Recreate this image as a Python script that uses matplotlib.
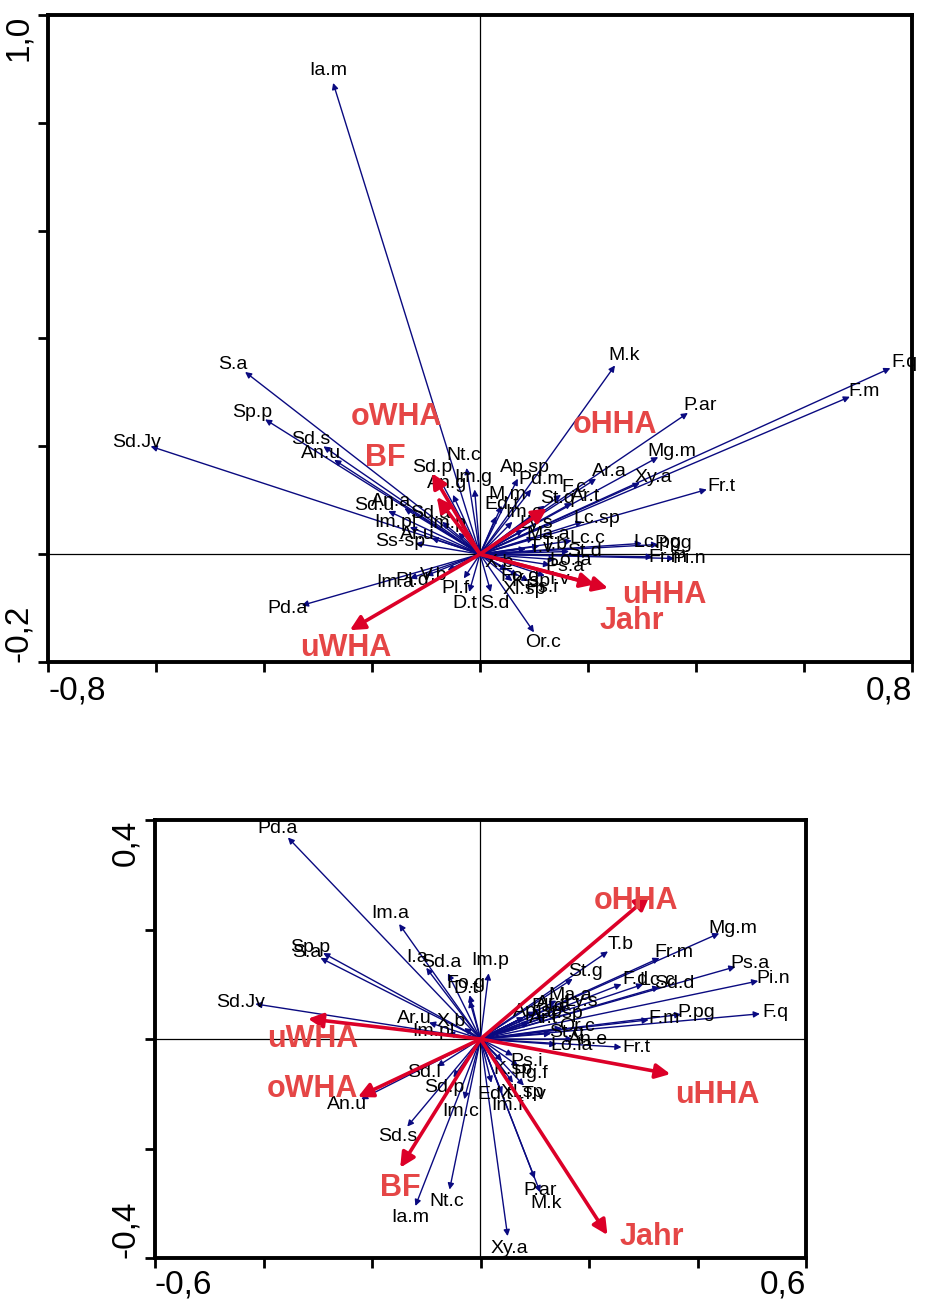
import matplotlib
matplotlib.use("Agg")
import matplotlib.pyplot as plt
from matplotlib import font_manager
import numpy as np

plt.rcParams['font.family'] = ['Liberation Sans', 'DejaVu Sans']

# ---- top biplot: species vectors ----
top_species = ["Ia.m", "S.a", "Sp.p", "Sd.Jv", "Sd.s", "An.u", "Pd.a", "M.k", "P.ar",
               "F.q", "F.m", "Mg.m", "Xy.a", "Fr.t", "Ar.a", "Ar.t", "Lc.sp", "Lc.c",
               "St.d", "Lc.pg", "P.pg", "Fr.m", "Pi.n", "Or.c", "S.d", "Ps.i", "I.v",
               "Im.a", "Pl.d", "Nt.c", "Sd.p", "An.g", "Im.g", "Ap.sp", "Pd.m", "F.c",
               "St.q", "Sd.u", "An.a", "Im.pl", "Ss-sp", "M.m", "V.b", "X.b", "Lo.la",
               "K.sp", "D.t", "Pl.f", "Im.c", "Ly.s", "Ma.a", "Ed.t", "T.b", "Ps.a",
               "Sd.a", "Im.p", "Ar.u", "Fo.g", "Xl.sp", "T.v"]
top_x = [-0.272, -0.435, -0.398, -0.610, -0.290, -0.270, -0.330, 0.250, 0.385,
         0.760, 0.685, 0.330, 0.296, 0.420, 0.215, 0.170, 0.190, 0.170,
         0.165, 0.300, 0.330, 0.320, 0.360, 0.100, 0.020, 0.090, 0.120,
         -0.130, -0.100, -0.025, -0.075, -0.050, -0.010, 0.070, 0.095, 0.150,
         0.120, -0.170, -0.140, -0.130, -0.120, 0.040, -0.060, 0.010, 0.140,
         0.070, -0.020, -0.030, 0.060, 0.080, 0.100, 0.030, 0.110, 0.130,
         -0.070, -0.040, -0.090, 0.050, 0.060, 0.085]
top_y = [0.874, 0.338, 0.250, 0.200, 0.200, 0.175, -0.095, 0.350, 0.262,
         0.345, 0.292, 0.180, 0.132, 0.120, 0.140, 0.095, 0.060, 0.025,
         0.005, 0.020, 0.018, -0.005, -0.008, -0.145, -0.070, -0.050, -0.040,
         -0.045, -0.040, 0.160, 0.140, 0.110, 0.120, 0.140, 0.120, 0.110,
         0.090, 0.080, 0.085, 0.050, 0.020, 0.090, -0.030, -0.005, -0.010,
         -0.040, -0.070, -0.045, 0.060, 0.045, 0.030, 0.070, 0.015, -0.020,
         0.060, 0.040, 0.030, -0.030, -0.050, 0.010]

top_env = ["BF", "oWHA", "oHHA", "uHHA", "Jahr", "uWHA"]
top_env_x = [-0.089, -0.080, 0.124, 0.237, 0.213, -0.241]
top_env_y = [0.150, 0.106, 0.085, -0.063, -0.056, -0.141]

# ---- bottom biplot: species vectors ----
bot_species = ["Pd.a", "Im.a", "Sp.p", "S.a", "Sd.Jv", "I.a", "Sd.a", "Im.p", "Fo.g",
               "Ar.u", "Im.pl", "An.u", "Sd.s", "Ia.m", "Nt.c", "Im.c", "Im.f", "P.ar",
               "M.k", "Xy.a", "Fr.t", "An.e", "F.q", "F.m", "P.pg", "Pi.n", "Ps.a",
               "Mg.m", "Fr.m", "T.b", "St.g", "F.d", "Lc.c", "Sd.d", "Ma.a", "Ly.s",
               "Sd.p", "Ed.t", "Xl.sp", "T.v", "Pg.f", "Sd.l", "Lc.sp", "Ar.t", "Or.c",
               "Ps.i", "Pl.d", "K.sp", "D.t", "St.q", "Ap.sp", "Ar.a", "Lo.la", "X.b"]
bot_x = [-0.355, -0.150, -0.290, -0.295, -0.415, -0.100, -0.060, 0.015, -0.020,
         -0.095, -0.060, -0.220, -0.135, -0.120, -0.057, -0.030, 0.040, 0.100,
         0.110, 0.050, 0.260, 0.170, 0.515, 0.310, 0.370, 0.512, 0.470,
         0.440, 0.330, 0.235, 0.170, 0.260, 0.300, 0.330, 0.140, 0.160,
         -0.050, 0.020, 0.060, 0.080, 0.070, -0.080, 0.120, 0.090, 0.150,
         0.060, 0.100, 0.040, -0.020, 0.130, 0.080, 0.110, 0.140, -0.030]
bot_y = [0.368, 0.210, 0.157, 0.148, 0.064, 0.130, 0.120, 0.120, 0.080,
         0.030, 0.010, -0.110, -0.160, -0.305, -0.275, -0.110, -0.100, -0.255,
         -0.280, -0.360, -0.015, 0.000, 0.046, 0.035, 0.045, 0.106, 0.132,
         0.193, 0.148, 0.160, 0.110, 0.100, 0.100, 0.095, 0.070, 0.060,
         -0.070, -0.080, -0.080, -0.085, -0.050, -0.050, 0.040, 0.030, 0.020,
         -0.030, 0.050, -0.040, 0.070, 0.010, 0.040, 0.055, -0.010, 0.020]

bot_env = ["oHHA", "uHHA", "Jahr", "BF", "oWHA", "uWHA"]
bot_env_x = [0.312, 0.350, 0.234, -0.148, -0.226, -0.318]
bot_env_y = [0.262, -0.064, -0.358, -0.235, -0.106, 0.037]

# label anchors for the environmental variables
top_env_lx = [-0.176, -0.154, 0.250, 0.341, 0.281, -0.248]
top_env_ly = [0.178, 0.254, 0.239, -0.076, -0.124, -0.174]
bot_env_lx = [0.287, 0.436, 0.316, -0.148, -0.309, -0.309]
bot_env_ly = [0.252, -0.103, -0.361, -0.272, -0.092, 0.000]

NAVY = "#0a0a80"
RED = "#dc0028"
RED_TXT = "#e54646"

installed = {f.name for f in font_manager.fontManager.ttflist}
TICK_FONT = ["Liberation Sans Narrow", "Liberation Sans"] if "Liberation Sans Narrow" in installed \
    else ["Liberation Sans"]


def biplot(ax, names, xs, ys, env, ex, ey, elx, ely, xlim, ylim, xstep, ystep, xpad=3):
    ax.axhline(0, color="black", lw=0.9, zorder=1)
    ax.axvline(0, color="black", lw=0.9, zorder=1)
    for n, x, y in zip(names, xs, ys):
        ax.annotate("", xy=(x, y), xytext=(0, 0),
                    arrowprops=dict(arrowstyle="-|>", color=NAVY, lw=1.0,
                                    mutation_scale=9, shrinkA=0, shrinkB=0), zorder=2)
        d = np.hypot(x, y)
        ux, uy = x / d, y / d
        ax.annotate(n, xy=(x, y), xytext=(ux * 11, uy * 9), textcoords="offset points",
                    ha="center", va="center", fontsize=14, color="black", zorder=3)
    for n, x, y, lx, ly in zip(env, ex, ey, elx, ely):
        ax.annotate("", xy=(x, y), xytext=(0, 0),
                    arrowprops=dict(arrowstyle="-|>", color=RED, lw=2.6,
                                    mutation_scale=22, shrinkA=0, shrinkB=0), zorder=4)
        ax.text(lx, ly, n, ha="center", va="center", fontsize=22, fontweight="bold",
                color=RED_TXT, zorder=5)
    ax.set_xlim(*xlim)
    ax.set_ylim(*ylim)
    xt = np.arange(xlim[0], xlim[1] + 1e-9, xstep)
    yt = np.arange(ylim[0], ylim[1] + 1e-9, ystep)
    fmt = lambda v: ("%.1f" % v).replace(".", ",")
    ax.set_xticks(xt)
    ax.set_xticklabels([fmt(v) if i in (0, len(xt) - 1) else "" for i, v in enumerate(xt)])
    ax.set_yticks(yt)
    ax.set_yticklabels([fmt(v) if i in (0, len(yt) - 1) else "" for i, v in enumerate(yt)],
                       rotation=90)
    ax.tick_params(direction="out", length=7, width=2, labelsize=24, pad=3)
    ax.tick_params(axis="x", pad=xpad)
    xl = ax.get_xticklabels()
    xl[0].set_ha("left")
    xl[-1].set_ha("right")
    yl = ax.get_yticklabels()
    yl[0].set_va("bottom")
    yl[-1].set_va("top")
    for t in xl + yl:
        t.set_family(TICK_FONT)
    for s in ax.spines.values():
        s.set_linewidth(2.8)


fig = plt.figure(figsize=(9.25, 13.02), dpi=100)
ax1 = fig.add_axes([48 / 925, 1 - 662 / 1302, 864 / 925, 647 / 1302])
ax2 = fig.add_axes([155 / 925, 1 - 1258 / 1302, 651 / 925, 438 / 1302])

biplot(ax1, top_species, top_x, top_y, top_env, top_env_x, top_env_y,
       top_env_lx, top_env_ly, (-0.8, 0.8), (-0.2, 1.0), 0.2, 0.2)
biplot(ax2, bot_species, bot_x, bot_y, bot_env, bot_env_x, bot_env_y,
       bot_env_lx, bot_env_ly, (-0.6, 0.6), (-0.4, 0.4), 0.2, 0.2, xpad=1)

fig.savefig("out.png", dpi=100)
